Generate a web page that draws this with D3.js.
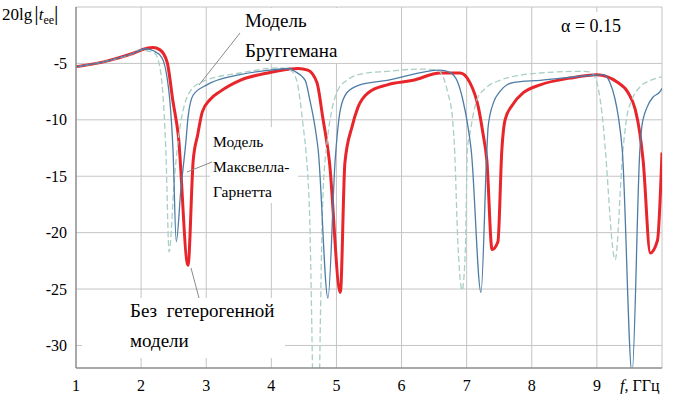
<!DOCTYPE html>
<html>
<head>
<meta charset="utf-8">
<script src="https://cdn.jsdelivr.net/npm/d3@7"></script>
<style>
  body { margin: 0; background: #fff; }
  svg { display: block; }
  text { font-family: "Liberation Serif", "Times New Roman", Times, "DejaVu Serif", serif; }
</style>
</head>
<body>
<div id="chart"></div>
<script>
// tick values
const xTicks = [1, 2, 3, 4, 5, 6, 7, 8, 9];
const yTicks = [-5, -10, -15, -20, -25, -30];

// без гетерогенной модели (red)
const redF  = [1.0, 1.5, 1.88, 2.09, 2.18, 2.29, 2.40, 2.49, 2.57, 2.72, 2.80, 2.87, 2.94, 3.06, 3.21, 3.52, 3.98, 4.29, 4.41, 4.56, 4.70, 4.79, 4.89, 5.06, 5.13, 5.24, 5.33, 5.49, 5.78, 6.18, 6.59, 6.90, 7.05, 7.18, 7.25, 7.31, 7.39, 7.48, 7.54, 7.59, 7.70, 7.87, 8.13, 8.59, 9.00, 9.31, 9.48, 9.59, 9.66, 9.71, 9.82, 9.93, 10.0];
const redDb = [-5.3, -4.75, -4.1, -3.65, -3.6, -3.8, -4.9, -8.4, -11.3, -22.9, -13.6, -11.3, -9.3, -8.2, -7.5, -6.5, -5.8, -5.5, -5.45, -5.6, -6.7, -9.8, -13.6, -25.3, -13.8, -10.6, -8.9, -7.6, -6.9, -6.5, -5.85, -5.85, -6.7, -8.9, -11.2, -13.6, -21.5, -20.8, -12.7, -10.0, -8.7, -7.6, -6.9, -6.3, -6.0, -6.65, -7.6, -9.1, -11.2, -13.6, -21.8, -20.7, -12.9];

// модель Максвелла-Гарнетта (blue)
const mgF  = [1.0, 1.5, 1.88, 2.06, 2.20, 2.32, 2.40, 2.44, 2.49, 2.54, 2.61, 2.69, 2.72, 2.80, 3.01, 3.52, 3.98, 4.29, 4.33, 4.52, 4.59, 4.67, 4.72, 4.87, 4.98, 5.06, 5.16, 5.36, 5.78, 6.59, 6.74, 6.85, 6.94, 7.02, 7.07, 7.22, 7.31, 7.33, 7.41, 7.51, 7.71, 8.13, 8.94, 9.10, 9.20, 9.28, 9.33, 9.39, 9.54, 9.66, 9.69, 9.77, 9.86, 9.97, 10.0];
const mgDb = [-5.3, -4.75, -4.1, -3.7, -3.9, -4.5, -6.3, -8.2, -12.7, -20.8, -16.2, -11.8, -9.8, -7.8, -6.9, -6.0, -5.6, -5.45, -5.6, -6.5, -8.2, -10.6, -12.7, -25.8, -13.6, -9.1, -7.6, -6.9, -6.5, -5.6, -5.8, -6.5, -8.2, -10.6, -12.7, -25.3, -12.7, -10.6, -8.5, -7.5, -6.7, -6.5, -6.05, -6.0, -6.7, -8.2, -9.75, -12.7, -32.5, -12.7, -10.6, -8.9, -8.0, -7.5, -7.2];

// модель Бруггемана (dashed)
const brF  = [1.0, 1.5, 1.88, 1.98, 2.10, 2.21, 2.29, 2.34, 2.38, 2.43, 2.51, 2.57, 2.64, 2.75, 2.95, 3.52, 4.13, 4.29, 4.39, 4.44, 4.49, 4.53, 4.58, 4.69, 4.79, 4.86, 4.93, 5.02, 5.16, 5.41, 5.78, 6.28, 6.55, 6.64, 6.71, 6.78, 6.81, 6.87, 6.93, 6.98, 7.01, 7.05, 7.16, 7.31, 7.51, 7.87, 8.13, 8.74, 8.90, 9.00, 9.05, 9.10, 9.13, 9.28, 9.40, 9.46, 9.54, 9.66, 9.82, 10.0];
const brDb = [-5.3, -4.75, -4.1, -3.8, -3.9, -4.1, -5.4, -8.2, -12.7, -21.7, -15.3, -11.8, -9.3, -7.5, -6.6, -5.85, -5.4, -5.6, -6.5, -8.2, -10.6, -12.7, -17.1, -45, -17.1, -11.8, -9.1, -7.4, -6.5, -5.9, -5.7, -5.5, -5.6, -6.2, -7.6, -9.75, -12.1, -21.5, -25.1, -21.5, -12.7, -11.2, -8.2, -7.1, -6.5, -6.0, -5.85, -5.7, -5.75, -6.7, -8.2, -10.6, -12.7, -22.4, -12.7, -9.75, -8.2, -7.1, -6.5, -6.2];

const W = 673, H = 394;
const margin = { left: 76, right: 11, top: 7, bottom: 26 };
const serif = "Liberation Serif, Times New Roman, DejaVu Serif, serif";

const svg = d3.select("#chart").append("svg")
    .attr("width", W)
    .attr("height", H)
    .attr("font-family", serif);

const x = d3.scaleLinear().domain([1, 10]).range([margin.left, W - margin.right]);
const y = d3.scaleLinear().domain([-32, 0]).range([H - margin.bottom, margin.top]);

// grid
const grid = svg.append("g");
grid.selectAll("line.v")
    .data(xTicks.slice(1).concat([10]))
    .enter().append("line")
        .attr("x1", d => x(d)).attr("x2", d => x(d))
        .attr("y1", y(0)).attr("y2", y(-32))
        .attr("stroke", "#c4c4c4").attr("stroke-width", 1);
grid.selectAll("line.h")
    .data(yTicks.concat([0]))
    .enter().append("line")
        .attr("x1", x(1)).attr("x2", x(10))
        .attr("y1", d => y(d)).attr("y2", d => y(d))
        .attr("stroke", "#c4c4c4").attr("stroke-width", 1);

svg.append("defs").append("clipPath").attr("id", "plot")
    .append("rect")
    .attr("x", x(1)).attr("y", y(0))
    .attr("width", x(10) - x(1)).attr("height", y(-32) - y(0));

const line = d3.line()
    .x(d => x(d[0]))
    .y(d => y(d[1]))
    .curve(d3.curveMonotoneX);

const curves = svg.append("g").attr("clip-path", "url(#plot)");

curves.append("path")
    .datum(d3.zip(redF, redDb))
    .attr("d", line)
    .attr("fill", "none")
    .attr("stroke", "#e8252b")
    .attr("stroke-width", 3)
    .attr("stroke-linejoin", "round");

curves.append("path")
    .datum(d3.zip(brF, brDb))
    .attr("d", line)
    .attr("fill", "none")
    .attr("stroke", "#a9cfc6")
    .attr("stroke-width", 1.3)
    .attr("stroke-dasharray", "6,3");

curves.append("path")
    .datum(d3.zip(mgF, mgDb))
    .attr("d", line)
    .attr("fill", "none")
    .attr("stroke", "#4d7ca6")
    .attr("stroke-width", 1.3);

// axes frame
svg.append("line")
    .attr("x1", x(1)).attr("x2", x(1)).attr("y1", y(0)).attr("y2", y(-32))
    .attr("stroke", "#8c8c8c").attr("stroke-width", 1.5);
svg.append("line")
    .attr("x1", x(1)).attr("x2", x(10)).attr("y1", y(-32)).attr("y2", y(-32))
    .attr("stroke", "#8c8c8c").attr("stroke-width", 1.5);

// tick labels
svg.append("g").selectAll("text")
    .data(yTicks)
    .enter().append("text")
        .attr("x", x(1) - 9)
        .attr("y", d => y(d))
        .attr("dy", "0.35em")
        .attr("text-anchor", "end")
        .attr("font-size", 16)
        .text(d => d);

svg.append("g").selectAll("text")
    .data(xTicks)
    .enter().append("text")
        .attr("x", d => x(d))
        .attr("y", y(-32) + 17)
        .attr("dy", "0.35em")
        .attr("text-anchor", "middle")
        .attr("font-size", 16)
        .text(d => d);

const xt = svg.append("text")
    .attr("x", 620).attr("y", y(-32) + 17).attr("dy", "0.35em")
    .attr("font-size", 16);
xt.append("tspan").attr("font-style", "italic").text("f");
xt.append("tspan").text(", ГГц");

const yt = svg.append("text")
    .attr("x", 2).attr("y", 20)
    .attr("font-size", 17);
yt.append("tspan").text("20lg");
yt.append("tspan").attr("font-size", 22).attr("dx", 2).text("|");
yt.append("tspan").attr("font-style", "italic").text("t");
yt.append("tspan").attr("font-size", 12).attr("dy", 4).text("ee");
yt.append("tspan").attr("font-size", 22).attr("dy", -4).text("|");

// annotations with white backing
function note(box, lines, size, pointer) {
    svg.append("rect")
        .attr("x", box[0]).attr("y", box[1])
        .attr("width", box[2]).attr("height", box[3])
        .attr("fill", "#fff");
    if (pointer) {
        svg.append("line")
            .attr("x1", pointer[0]).attr("y1", pointer[1])
            .attr("x2", pointer[2]).attr("y2", pointer[3])
            .attr("stroke", "#8a8a8a").attr("stroke-width", 1);
    }
    lines.forEach(function(l) {
        svg.append("text")
            .attr("x", l[0]).attr("y", l[1])
            .attr("font-size", size)
            .attr("word-spacing", l[3] || 0)
            .text(l[2]);
    });
}

note([240, 8, 105, 55], [[245, 27, "Модель"], [245, 57, "Бруггемана"]], 19, [240, 33, 199, 85]);
note([210, 127, 88, 76], [[213, 147, "Модель"], [213, 172, "Максвелла-"], [213, 197, "Гарнетта"]], 15.5, [212, 162, 187, 172]);
note([82, 298, 203, 60], [[130, 317, "Без гетерогенной", 5], [130, 347, "модели"]], 19, [191, 268, 199, 298]);
note([555, 12, 77, 28], [[561, 32, "α = 0.15"]], 18);
</script>
</body>
</html>
